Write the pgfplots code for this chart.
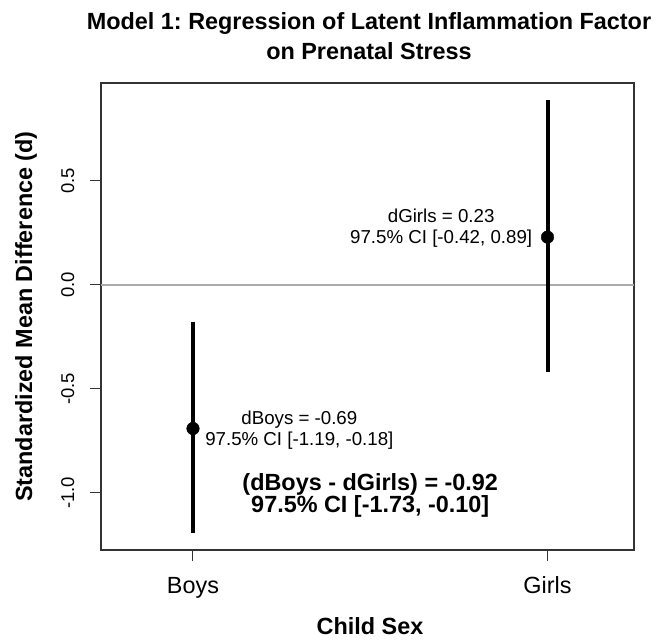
\documentclass[border=0pt]{standalone}
\usepackage{fontspec}
\setmainfont{Liberation Sans}
\usepackage{pgfplots}
\pgfplotsset{compat=1.18}
\frenchspacing
\definecolor{zerogray}{HTML}{AAAAAA}
\definecolor{axisgray}{HTML}{333333}
\newcommand{\fbig}{\fontsize{23.4bp}{28bp}\selectfont}
\newcommand{\fnorm}{\fontsize{18.7bp}{22bp}\selectfont}
\newcommand{\ftick}{\fontsize{18.5bp}{22bp}\selectfont}
\begin{document}
\frenchspacing
\begin{tikzpicture}[x=1bp,y=1bp]
\path[use as bounding box] (0,0) rectangle (657,640);
\begin{axis}[
  at={(101bp,90bp)}, anchor=south west,
  scale only axis, width=533bp, height=467bp,
  xmin=0.7405, xmax=2.244, ymin=-1.274, ymax=0.971,
  xtick={1,2}, xticklabels={Boys,Girls},
  ytick={-1,-0.5,0,0.5}, yticklabels={-1.0,-0.5,0.0,0.5},
  tick align=outside, major tick length=11bp,
  xtick pos=left, ytick pos=left,
  every tick/.style={axisgray, line width=1bp},
  axis line style={axisgray, line width=1.2bp},
  x tick label style={font=\fbig, anchor=base, yshift=-32bp},
  y tick label style={font=\ftick, anchor=base, xshift=-16bp, rotate=90},
  clip=false]
\addplot[zerogray, line width=2.5bp] coordinates {(0.7405,0) (2.244,0)};
\addplot[black, line width=4bp] coordinates {(1,-1.19) (1,-0.18)};
\addplot[black, line width=4bp] coordinates {(2,-0.42) (2,0.89)};
\addplot[only marks, mark=*, mark size=6.3bp, black] coordinates {(1,-0.69) (2,0.23)};
\node[anchor=base, font=\fnorm] at (axis cs:1.3,-0.673) {dBoys = -0.69};
\node[anchor=base, font=\fnorm] at (axis cs:1.3,-0.774) {97.5\% CI [-1.19, -0.18]};
\node[anchor=base, font=\fnorm] at (axis cs:1.7,0.298) {dGirls = 0.23};
\node[anchor=base, font=\fnorm] at (axis cs:1.7,0.197) {97.5\% CI [-0.42, 0.89]};
\node[anchor=base, font=\fbig\bfseries] at (axis cs:1.5,-0.986) {(dBoys - dGirls) = -0.92};
\node[anchor=base, font=\fbig\bfseries] at (axis cs:1.5,-1.096) {97.5\% CI [-1.73, -0.10]};
\end{axis}
\node[anchor=base, font=\fbig\bfseries] at (369,610) {Model 1: Regression of Latent Inflammation Factor};
\node[anchor=base, font=\fbig\bfseries] at (369,580) {on Prenatal Stress};
\node[anchor=base, font=\fbig\bfseries] at (370,5) {Child Sex};
\node[anchor=base, rotate=90, font=\fbig\bfseries] at (32,323.5) {Standardized Mean Difference (d)};
\end{tikzpicture}
\end{document}
